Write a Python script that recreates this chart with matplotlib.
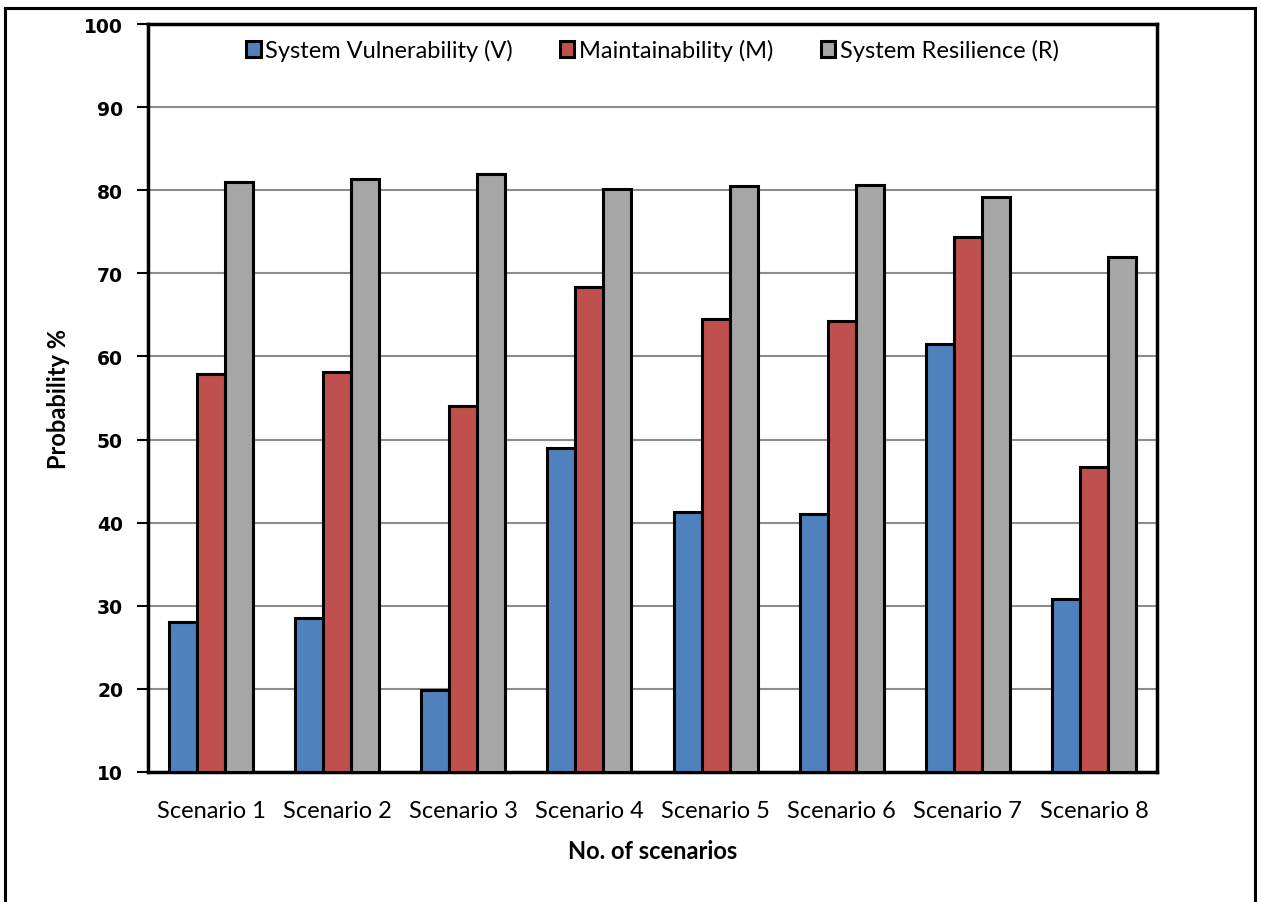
import numpy as np
import matplotlib.pyplot as plt
from matplotlib.patches import Rectangle

# ------ Data ------
scenarios = [f'Scenario {i}' for i in range(1, 9)]
vulnerability = [28.0, 28.5, 19.9, 49.0, 41.3, 41.0, 61.5, 30.8]
maintainability = [57.9, 58.1, 54.0, 68.3, 64.5, 64.3, 74.4, 46.7]
resilience = [81.0, 81.4, 81.9, 80.1, 80.5, 80.6, 79.2, 72.0]
series_names = ['System Vulnerability (V)', 'Maintainability (M)', 'System Resilience (R)']
colors = ['#4f81bd', '#c0504d', '#a6a6a6']
# ------------------

plt.rcParams['font.family'] = ['Lato', 'DejaVu Sans']

fig = plt.figure(figsize=(12.61, 9.03), dpi=100)
ax = fig.add_axes([0.1174, 0.144, 0.8001, 0.8283])

x = np.arange(len(scenarios))
w = 0.222
for k, (vals, name, c) in enumerate(zip([vulnerability, maintainability, resilience],
                                         series_names, colors)):
    ax.bar(x + (k - 1) * w, np.array(vals) - 10, w, bottom=10, color=c,
           edgecolor='black', linewidth=2.2, label=name, zorder=3)

ax.set_xlim(-0.5, len(scenarios) - 0.5)
ax.set_ylim(10, 100)
ax.set_yticks(range(10, 101, 10))
ax.yaxis.grid(True, color='#8c8c8c', linewidth=1.5, zorder=0)
ax.set_axisbelow(True)

for sp in ax.spines.values():
    sp.set_linewidth(2.5)
    sp.set_color('black')

ax.set_xticks(x)
ax.set_xticklabels(scenarios, fontsize=17)
ax.tick_params(axis='x', length=0, pad=20)
ax.tick_params(axis='y', length=8, width=1.5, pad=10)
for lbl in ax.get_yticklabels():
    lbl.set_fontfamily('DejaVu Sans')
    lbl.set_fontweight('bold')
    lbl.set_fontsize(13.5)

ax.set_xlabel('No. of scenarios', fontsize=17, fontweight='bold', labelpad=13)
ax.set_ylabel('Probability %', fontsize=17, fontweight='bold', labelpad=10)

leg = ax.legend(loc='upper center', bbox_to_anchor=(0.5, 1.008), ncol=3, frameon=False,
                fontsize=17, handlelength=0.6, handleheight=0.7, handletextpad=0.2,
                columnspacing=2.0)
for h in leg.legend_handles:
    h.set_linewidth(2.2)

# outer chart border (bottom edge falls outside the picture)
fig.patches.append(Rectangle((0.004, -0.01), 0.991, 1.0, transform=fig.transFigure,
                             fill=False, edgecolor='black', linewidth=2.2))

plt.savefig('out.png', dpi=100)
